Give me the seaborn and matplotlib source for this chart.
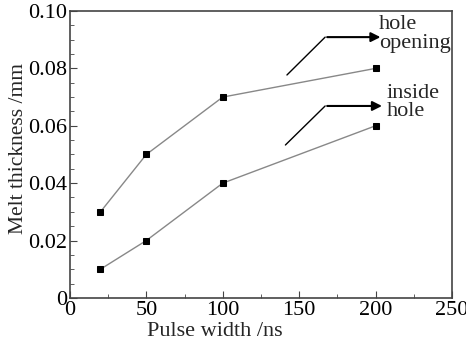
import numpy as np
import pandas as pd
import matplotlib
matplotlib.use("Agg")
import matplotlib.pyplot as plt
import seaborn as sns
from matplotlib.ticker import MultipleLocator

# data
pulse_width = [20, 50, 100, 200]
hole_opening = [0.03, 0.05, 0.07, 0.08]
inside_hole = [0.01, 0.02, 0.04, 0.06]

df = pd.DataFrame({
    "pulse": pulse_width * 2,
    "melt": hole_opening + inside_hole,
    "where": ["hole opening"] * 4 + ["inside hole"] * 4,
})

sns.set_style("ticks")
plt.rcParams["font.family"] = ["Liberation Serif", "DejaVu Serif"]

fig = plt.figure(figsize=(4.66, 3.44), dpi=100)
ax = fig.add_axes([0.150, 0.134, 0.820, 0.834])

sns.lineplot(data=df, x="pulse", y="melt", units="where", estimator=None,
             color="#888888", lw=1.0, marker="s", markersize=5,
             markerfacecolor="black", markeredgecolor="black", ax=ax)

ax.set_xlim(0, 250)
ax.set_ylim(0, 0.1)
ax.xaxis.set_major_locator(MultipleLocator(50))
ax.xaxis.set_minor_locator(MultipleLocator(25))
ax.yaxis.set_minor_locator(MultipleLocator(0.005))
ax.set_yticks([0, 0.02, 0.04, 0.06, 0.08, 0.10])
ax.set_yticklabels(["0", "0.02", "0.04", "0.06", "0.08", "0.10"])
ax.tick_params(which="both", direction="in", top=False, right=False, labelsize=16,
               colors="#444444", labelcolor="black")
ax.tick_params(which="major", length=5, pad=2)
ax.tick_params(which="minor", length=3)
for s in ax.spines.values():
    s.set_color("#444444")
    s.set_linewidth(1.2)

ax.set_xlabel("Pulse width /ns", fontsize=16)
ax.xaxis.set_label_coords(0.38, -0.083)
ax.set_ylabel("Melt thickness /mm", fontsize=15.5)
ax.yaxis.set_label_coords(-0.11, 0.52)

# bent arrows
ax.plot([142, 167], [0.0777, 0.0909], color="black", lw=1.0)
ax.annotate("", xy=(205, 0.0909), xytext=(166.5, 0.0909),
            arrowprops=dict(arrowstyle="-|>", color="black", lw=1.5, mutation_scale=14))
ax.text(202, 0.0985, "hole\nopening", fontsize=16, va="top", ha="left", linespacing=0.95)

ax.plot([141, 167], [0.0533, 0.0669], color="black", lw=1.0)
ax.annotate("", xy=(206, 0.0669), xytext=(166.5, 0.0669),
            arrowprops=dict(arrowstyle="-|>", color="black", lw=1.5, mutation_scale=14))
ax.text(207, 0.0745, "inside\nhole", fontsize=16, va="top", ha="left", linespacing=0.95)

fig.savefig("out.png", dpi=100)
